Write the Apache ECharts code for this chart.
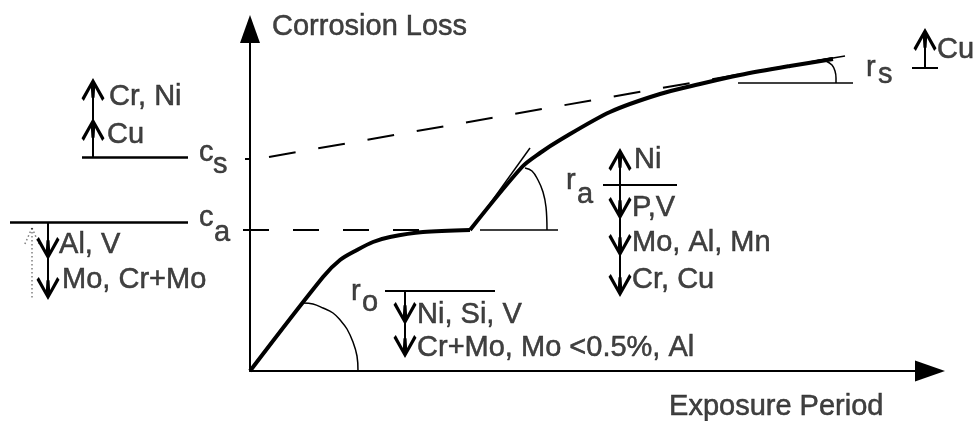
<!DOCTYPE html>
<html><head><meta charset="utf-8">
<script src="https://cdn.jsdelivr.net/npm/echarts@6/dist/echarts.min.js"></script>
<style>html,body{margin:0;padding:0;background:#fff}#chart{width:979px;height:421px}</style>
</head><body><div id="chart"></div>
<script>
// Schematic units: origin at the corner of the axes, x = exposure period, y = corrosion loss
const curveEarly = [[0,0],[73,94],[90,111],[107,121],[123,129],[140,134],[173,139],[220,141]];
const curveLate = [[220,141],[272,204],[290,218],[310,231],[360,259],[410,277],[450,287],[490,296],[540,305],[583,312]];
const caLevel = [[-7,141],[220,141]];
const csTrend = [[19,214],[583,313]];
const arcRo = [[53,68],[63,67],[73,63],[83,58],[91,50],[97,42],[103,29],[107,15],[108,0]];
const arcRa = [[275,203],[282,200],[288,191],[293,179],[296,164],[297,141]];
const arcRs = [[576,310],[582,306],[585,300],[586,293],[586,288]];
const levelMarkers = [[[-168,214],[-62,214]], [[-240,149],[-62,149]]];
const axisTicks = [[[-5,212],[0,212]], [[-5,141],[0,141]]];
const dividers = [[[353,186],[427,186]], [[135,80],[245,80]], [[662,303],[688,303]]];
const angleLines = [[[230,141],[308,141]], [[234,159],[280,223]], [[488,288],[603,288]], [[565,310],[595,315]]];
const effectArrows = [
  [[-157,214],[-157,293]], [[-157,214],[-157,253]],
  [[-202,149],[-202,111]], [[-202,149],[-202,71]],
  [[370,186],[370,223]], [[370,186],[370,151]], [[370,186],[370,114]], [[370,186],[370,74]],
  [[155,80],[155,46]], [[155,80],[155,13]],
  [[675,303],[675,343]]
];
const dottedArrow = [[[-218,143],[-218,73]], [[-218,143],[-226,125]], [[-218,143],[-210,125]]];
const labels = [
  [22,344,'Corrosion Loss'], [419,-36,'Exposure Period'],
  [-141,274,'Cr, Ni'], [-143,236,'Cu'],
  [-51,218,'c'], [-37,206,'s'], [-51,153,'c'], [-36,138,'a'],
  [-191,126,'Al, V'], [-188,91,'Mo, Cr+Mo'],
  [384,211,'Ni'], [382,163,'P,V'], [382,128,'Mo, Al, Mn'], [382,91,'Cr, Cu'],
  [316,190,'r'], [327,176,'a'],
  [101,79,'r'], [112,68,'o'],
  [167,56,'Ni, Si, V'], [167,23,'Cr+Mo, Mo <0.5%, Al'],
  [616,303,'r'], [628,296,'s'],
  [687,321,'Cu']
];

const INK = '#000';
const FONT = "'Liberation Sans', Arial, sans-serif";
const HEAD = 23;
const chevron = 'path://M12,0L24,19L21.6,21.6L14.2,9.4L13.6,18.5L10.4,18.5L9.8,9.4L2.4,21.6L0,19Z';

function shaft(seg) {
  const [b, t] = seg;
  const dx = t[0]-b[0], dy = t[1]-b[1];
  const L = Math.hypot(dx, dy);
  return {coords: [b, [t[0]-dx/L*HEAD/2, t[1]-dy/L*HEAD/2]]};
}
const segs = (arr) => arr.map(c => ({coords: c}));
const lineS = (data, width, extra) => Object.assign({
  type: 'line', xAxisIndex: 0, yAxisIndex: 0, data, symbol: 'none', silent: true,
  lineStyle: {color: INK, width}
}, extra || {});
const linesS = (data, width, extra) => Object.assign({
  type: 'lines', coordinateSystem: 'cartesian2d', xAxisIndex: 0, yAxisIndex: 0, silent: true,
  data, lineStyle: {color: INK, width, opacity: 1, curveness: 0}
}, extra || {});

const chart = echarts.init(document.getElementById('chart'));
chart.setOption({
  animation: false,
  backgroundColor: '#fff',
  grid: [
    {left: 0, right: 0, top: 0, bottom: 0},
    {left: 250, right: 49, top: 29, bottom: 50}
  ],
  xAxis: [
    {gridIndex: 0, type: 'value', min: -250, max: 729, show: false},
    {gridIndex: 1, type: 'value', min: 0, max: 1,
     axisLine: {show: true, onZero: false, symbol: ['none','triangle'], symbolSize: [21,30], lineStyle: {color: '#000', width: 2}},
     axisTick: {show: false}, axisLabel: {show: false}, splitLine: {show: false}}
  ],
  yAxis: [
    {gridIndex: 0, type: 'value', min: -50, max: 371, show: false},
    {gridIndex: 1, type: 'value', min: 0, max: 1,
     axisLine: {show: true, onZero: false, symbol: ['none','triangle'], symbolSize: [20,28], lineStyle: {color: '#000', width: 2}},
     axisTick: {show: false}, axisLabel: {show: false}, splitLine: {show: false}}
  ],
  series: [
    lineS(caLevel, 2, {lineStyle: {color: INK, width: 2, type: [26,24]}}),
    lineS(csTrend, 2, {lineStyle: {color: INK, width: 2, type: [27,23]}}),
    lineS(arcRo, 1.5, {smooth: 0.4}),
    lineS(arcRa, 1.5, {smooth: 0.4}),
    lineS(arcRs, 1.5, {smooth: 0.4}),
    linesS(segs(levelMarkers), 2.5),
    linesS(segs(axisTicks), 2),
    linesS(segs(dividers), 2),
    linesS(segs(angleLines), 1.5),
    linesS(effectArrows.map(shaft), 2, {symbol: ['none', chevron], symbolSize: HEAD}),
    linesS(segs(dottedArrow), 1.5, {lineStyle: {color: INK, width: 1.5, type: [1.5,2.5], curveness: 0}}),
    lineS(curveEarly, 4, {smooth: 0.3, z: 5}),
    lineS(curveLate, 4, {smooth: 0.3, z: 5}),
    {
      type: 'scatter', xAxisIndex: 0, yAxisIndex: 0, silent: true, symbolSize: 0.1,
      itemStyle: {color: 'rgba(0,0,0,0)'},
      data: labels.map(l => ({value: [l[0], l[1]], name: l[2]})),
      label: {show: true, position: 'right', distance: 0, formatter: '{b}',
              color: '#111', fontSize: 29, fontFamily: FONT, align: 'left', verticalAlign: 'middle',
              textBorderColor: '#111', textBorderWidth: 0.5}
    }
  ]
});
</script></body></html>
